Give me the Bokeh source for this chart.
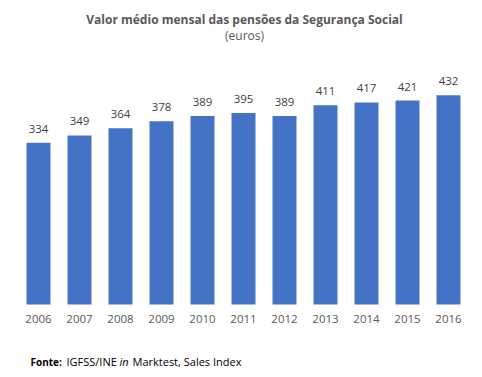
from bokeh.plotting import figure
from bokeh.models import Range1d, Label, ColumnDataSource
from bokeh.embed import file_html
from bokeh.resources import INLINE
from bokeh.core.properties import value

years = ["2006", "2007", "2008", "2009", "2010", "2011", "2012", "2013", "2014", "2015", "2016"]
pensions = [334, 349, 364, 378, 389, 395, 389, 411, 417, 421, 432]
title_text = "Valor médio mensal das pensões da Segurança Social"
subtitle_text = "(euros)"

W, H = 482, 377
FONT = "Open Sans"
BAR = "#4472C4"
GREY = "#595959"

idx = list(range(len(years)))
src = ColumnDataSource(dict(x=idx, year=years, v=pensions, lab=[str(v) for v in pensions]))

p = figure(width=W, height=H, output_backend="svg", toolbar_location=None,
           x_axis_type=None, y_axis_type=None, min_border=0,
           x_range=Range1d(-38 / 41, (W - 38) / 41),
           y_range=Range1d(-73 / 0.4845, (H - 73) / 0.4845))
p.grid.visible = False
p.outline_line_color = None
p.background_fill_color = "white"
p.border_fill_color = "white"

p.vbar(x="x", top="v", bottom=0, width=0.585, source=src, fill_color=BAR, line_color=None)

p.text(x="x", y="v", text="lab", source=src, y_offset=-14,
       text_align="center", text_baseline="middle",
       text_font=value(FONT), text_font_size="11.5px", text_color="#404040")

p.text(x="x", y=0, text="year", source=src, y_offset=14,
       text_align="center", text_baseline="middle",
       text_font=value(FONT), text_font_size="11.5px", text_color=GREY)

def lab(x, y, t, style="normal", size="11.5px", color=GREY, align="left"):
    p.add_layout(Label(x=x, y=H - y, x_units="screen", y_units="screen", text=t,
                       text_font=FONT, text_font_size=size, text_font_style=style,
                       text_color=color, text_align=align, text_baseline="middle"))

lab(244, 19, title_text, style="bold", size="12px", align="center")
lab(244, 35, subtitle_text, size="12px", align="center")

lab(30, 361, "Fonte:", style="bold", size="10px", color="black")
lab(66, 361, "IGFSS/INE", size="11px", color="black")
lab(119, 361, "in", style="italic", size="11px", color="black")
lab(132, 361, "Marktest, Sales Index", size="11px", color="black")

open("out.html", "w").write(file_html(p, INLINE))
